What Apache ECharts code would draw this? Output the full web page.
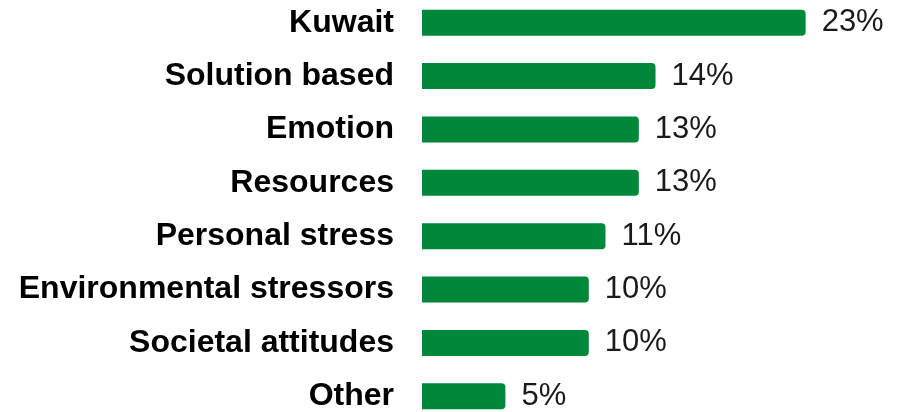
<!DOCTYPE html>
<html>
<head>
<meta charset="utf-8">
<script src="https://cdn.jsdelivr.net/npm/echarts@6/dist/echarts.min.js"></script>
<style>
  html, body { margin: 0; padding: 0; background: #ffffff; overflow: hidden; }
  /* chart canvas extends slightly past the window so the outer rows sit near the edges */
  #chart { width: 905px; height: 427px; margin-top: -4px; }
</style>
</head>
<body>
<div id="chart"></div>
<script>
// Share of responses by theme (percent), listed top to bottom
const categories = [
  'Kuwait',
  'Solution based',
  'Emotion',
  'Resources',
  'Personal stress',
  'Environmental stressors',
  'Societal attitudes',
  'Other'
];
const values = [23, 14, 13, 13, 11, 10, 10, 5];

const chart = echarts.init(document.getElementById('chart'), null, { renderer: 'canvas' });

chart.setOption({
  animation: false,
  backgroundColor: '#ffffff',
  grid: { left: 422, right: 66, top: 0, bottom: 0, containLabel: false },
  xAxis: {
    type: 'value',
    min: 0,
    max: 25,
    show: false
  },
  yAxis: {
    type: 'category',
    data: categories,
    inverse: true,
    axisLine: { show: false },
    axisTick: { show: false },
    axisLabel: {
      margin: 28,
      color: '#000000',
      fontFamily: 'Liberation Sans, Arial, sans-serif',
      fontWeight: 'bold',
      fontSize: 32
    }
  },
  series: [{
    type: 'bar',
    data: values,
    barWidth: 26,
    itemStyle: { color: '#00883a', borderRadius: [0, 4, 4, 0] },
    label: {
      show: true,
      position: 'right',
      distance: 16,
      formatter: '{c}%',
      color: '#1a1a1a',
      fontFamily: 'Liberation Sans, Arial, sans-serif',
      fontWeight: 'normal',
      fontSize: 31
    }
  }]
});
</script>
</body>
</html>
